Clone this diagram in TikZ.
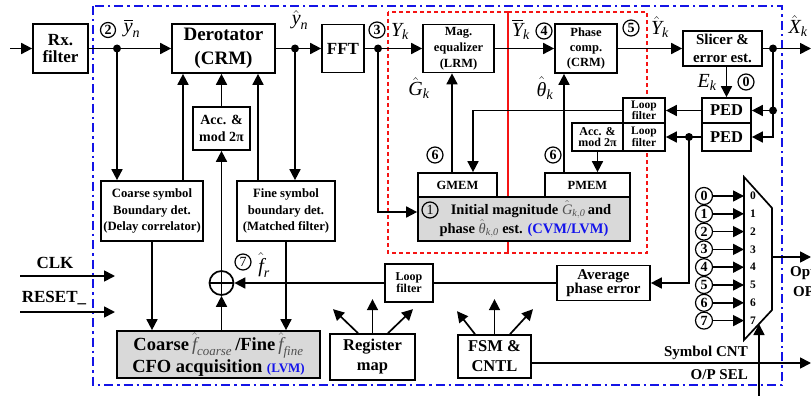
\documentclass[tikz,border=0pt]{standalone}
\usepackage{fix-cm}
\usepackage{amsmath}
\usepackage[no-math]{fontspec}
\setmainfont{Liberation Serif}
\usetikzlibrary{arrows.meta}
\definecolor{fillgray}{RGB}{217,217,217}
\definecolor{frameblue}{RGB}{20,20,230}
\definecolor{framered}{RGB}{245,20,20}
\definecolor{textblue}{RGB}{20,20,235}
\definecolor{symgray}{RGB}{80,80,80}
\newcommand\itx[1]{\text{\mdseries\itshape #1}}
\newcommand\fsz[2]{\fontsize{#1}{#2}\selectfont}

\begin{document}
\begin{tikzpicture}[x=1pt,y=-1pt,line width=1.7pt,
  arr/.style={-{Triangle[length=11pt,width=11pt]}},
  blk/.style={draw,rectangle,fill=white,inner sep=0pt,align=center},
  grayblk/.style={blk,fill=fillgray},
  jdot/.style={circle,fill,inner sep=0pt,minimum size=8pt},
  cnum/.style={circle,draw,line width=1.2pt,inner sep=0pt,minimum size=16pt,font=\fsz{14}{14}\bfseries},
  lab/.style={inner sep=0pt,font=\fsz{20}{20}},
]
\useasboundingbox (0,0) rectangle (811,396);

% chip boundary and the two equalizer regions
\draw[frameblue,line width=2pt,dash pattern=on 9pt off 4pt on 2.5pt off 4pt] (93,6) rectangle (782,385);
\draw[framered,line width=2pt,dash pattern=on 4pt off 3pt] (388,12) rectangle (508,253);
\draw[framered,line width=2pt,dash pattern=on 4pt off 3pt] (508,12) rectangle (647,253);

% main data path
\node[blk,minimum width=55,minimum height=49,font=\fsz{17}{17}\bfseries] (rx) at (60.5,48.5) {Rx.\\filter};
\node[blk,minimum width=103,minimum height=49,font=\fsz{19}{24}\bfseries] (derot) at (223.5,48.5) {Derotator\\(CRM)};
\node[blk,minimum width=42,minimum height=48,font=\fsz{17}{17}\bfseries] (fft) at (343,48.5) {FFT};
\node[blk,minimum width=71,minimum height=48,font=\fsz{12.5}{16}\bfseries] (mageq) at (458.5,48.5) {Mag.\\equalizer\\(LRM)};
\node[blk,minimum width=62,minimum height=49,font=\fsz{12.5}{15}\bfseries] (phcomp) at (586,48.5) {Phase\\comp.\\(CRM)};
\node[blk,minimum width=79,minimum height=35,font=\fsz{15}{18}\bfseries] (slicer) at (722.5,48.5) {Slicer \&\\error est.};

% phase tracking loops
\node[blk,minimum width=49,minimum height=25,font=\fsz{16.5}{16}\bfseries] (ped1) at (726.5,110.5) {PED};
\node[blk,minimum width=49,minimum height=28,font=\fsz{16.5}{16}\bfseries] (ped2) at (726.5,137) {PED};
\node[blk,minimum width=42,minimum height=25,font=\fsz{11.5}{11.5}\bfseries] (lf1) at (644,110.5) {Loop\\filter};
\node[blk,minimum width=42,minimum height=28,font=\fsz{11.5}{11.5}\bfseries] (lf2) at (644,137) {Loop\\filter};
\node[blk,minimum width=51,minimum height=28,font=\fsz{12}{11.5}\bfseries] (acc2) at (597.5,137) {Acc. \&\\mod 2π};
\node[blk,minimum width=57,minimum height=43,font=\fsz{14}{17}\bfseries] (acc1) at (221.5,128.5) {Acc. \&\\mod 2π};

% synchronisation blocks
\node[blk,minimum width=102,minimum height=60,font=\fsz{12.7}{16.5}\bfseries] (coarse) at (152,211) {Coarse symbol\\Boundary det.\\(Delay correlator)};
\node[blk,minimum width=98,minimum height=60,font=\fsz{12.7}{16.5}\bfseries] (fine) at (286,211) {Fine symbol\\boundary det.\\(Matched filter)};
\node[blk,minimum width=79,minimum height=24,font=\fsz{12.5}{12}\bfseries] (gmem) at (457.5,185) {GMEM};
\node[blk,minimum width=85,minimum height=24,font=\fsz{12.5}{12}\bfseries] (pmem) at (587.5,185) {PMEM};
\node[grayblk,minimum width=212,minimum height=44,font=\fsz{14.5}{18}\bfseries] (init) at (524,219)
  {\hspace*{14pt}Initial magnitude \textcolor{symgray}{$\hat{\itx{G}}_{\itx{k},\itx{0}}$}\,and\\phase \textcolor{symgray}{$\hat{\itx{θ}}_{\itx{k},\itx{0}}$} est. \textcolor{textblue}{(CVM/LVM)}};
\node[grayblk,minimum width=203,minimum height=47,font=\fsz{18.5}{22}\bfseries] (cfo) at (218.5,354.5)
  {Coarse\,\textcolor{symgray}{$\hat{\itx{f}}_{\itx{coarse}}$}\,/Fine\,\textcolor{symgray}{$\hat{\itx{f}}_{\itx{fine}}$}\\CFO acquisition {\fsz{13}{13}\textcolor{textblue}{(LVM)}}};
\node[blk,minimum width=93,minimum height=35,font=\fsz{15}{14}\bfseries] (avg) at (603.5,283) {Average\\phase error};
\node[blk,minimum width=48,minimum height=38,font=\fsz{12}{12}\bfseries] (lf3) at (409,283) {Loop\\filter};
\node[blk,minimum width=85,minimum height=46,font=\fsz{16.5}{20}\bfseries] (reg) at (372.5,357) {Register\\map};
\node[blk,minimum width=73,minimum height=43,font=\fsz{16.5}{20}\bfseries] (fsm) at (494.5,356.5) {FSM \&\\CNTL};
\node[circle,draw,minimum size=24pt,inner sep=0pt] (sum) at (221.5,283) {};
\draw (sum.north) -- (sum.south) (sum.west) -- (sum.east);

% output multiplexer
\draw[fill=white] (744,177) -- (772,208) -- (772,310) -- (744,340) -- cycle;
\coordinate (muxin) at (744,0);
\foreach \i in {0,...,7}{
  \node[font=\fsz{11.5}{11.5}\bfseries] (m\i) at (753,{196+17.8*\i}) {\i};
  \node[cnum,minimum size=17pt] (c\i) at (704,{196+17.8*\i}) {\i};
  \draw[arr] (c\i.east) -- (c\i.east -| muxin);
}
\coordinate (muxo) at (772,257);
\coordinate (opout) at (811,257);
\draw[arr] (muxo) -- (opout);
\coordinate (selin) at (759,396);
\coordinate (selpt) at (759,324);
\draw[arr] (selin) -- (selpt);

% forward connections
\coordinate (src) at (10,48.5);
\coordinate (xout) at (811,48.5);
\node[jdot] (j1) at (117,48.5) {};
\node[jdot] (j2) at (295,48.5) {};
\node[jdot] (j3) at (378,48.5) {};
\node[jdot] (j4) at (773,48.5) {};
\node[jdot] (j5) at (773,110.5) {};
\node[jdot] (j6) at (689,137) {};
\draw[arr] (src) -- (rx.west);
\draw[arr] (rx.east) -- (derot.west);
\draw[arr] (derot.east) -- (fft.west);
\draw[arr] (fft.east) -- (mageq.west);
\draw[arr] (mageq.east) -- (phcomp.west);
\draw[arr] (phcomp.east) -- (slicer.west);
\draw[arr] (slicer.east) -- (xout);

% tracking loops
\draw[arr] (j4.center) |- (ped2.east);
\draw[arr] (j5.center) -- (ped1.east);
\draw[arr] (ped1.north |- slicer.south) -- (ped1.north);
\draw[arr] (ped1.west) -- (lf1.east);
\draw[arr] (ped2.west) -- (lf2.east);
\draw[arr] (j6.center) |- (avg.east);
\draw[arr] (lf1.west) -| ([xshift=15.5pt]gmem.north);
\draw[arr] ([xshift=-5.5pt]gmem.north) -- ([xshift=-5.5pt]gmem.north |- mageq.south);
\draw[arr] ([xshift=-23.5pt]pmem.north) -- ([xshift=-23.5pt]pmem.north |- phcomp.south);
\draw[arr] (acc2.south) -- (acc2.south |- pmem.north);
\draw[arr] (j3.center) |- ([yshift=7pt]init.west);

% synchronisation
\draw[arr] (j1.center) -- (j1.center |- coarse.north);
\draw[arr] (j2.center) -- (j2.center |- fine.north);
\draw[arr] ([xshift=31pt]coarse.north) -- ([xshift=31pt]coarse.north |- derot.south);
\draw[arr] ([xshift=-28pt]fine.north) -- ([xshift=-28pt]fine.north |- derot.south);
\draw[arr] (acc1.north) -- (acc1.north |- derot.south);
\draw[arr] (sum.north) -- (acc1.south);
\draw[arr] (sum.south |- cfo.north) -- (sum.south);
\draw[arr] (coarse.south) -- (coarse.south |- cfo.north);
\draw[arr] (fine.south) -- (fine.south |- cfo.north);
\draw (avg.west) -- (lf3.east);
\draw[arr] (lf3.west) -- (sum.east);

% control
\draw[arr] ([xshift=-14.5pt]reg.north) -- ++(-25,-24);
\draw[arr] (reg.north) -- ++(0,-34);
\draw[arr] ([xshift=15.5pt]reg.north) -- ++(25,-24);
\draw[arr] ([xshift=-19.5pt]fsm.north) -- ++(-18,-23);
\draw[arr] (fsm.north) -- ++(0,-35);
\draw[arr] ([xshift=15.5pt]fsm.north) -- ++(23,-25);
\coordinate (cntout) at (811,363);
\draw[arr] ([yshift=-6.5pt]fsm.east) -- (cntout);
\node[font=\fsz{15}{15}\bfseries,anchor=east] (scnt) at (752,353) {Symbol CNT};
\node[font=\fsz{15}{15}\bfseries,anchor=east] (opsel) at (752,375) {O/P SEL};
\node[font=\fsz{15}{15}\bfseries,anchor=west] (opt) at (786,273) {Opt};
\node[font=\fsz{15}{15}\bfseries,anchor=west] (op) at (789,292) {OP};

\node[font=\fsz{17}{17}\bfseries] (clk) at (55,263) {CLK};
\node[font=\fsz{17}{17}\bfseries] (rst) at (54,298) {RESET\_};
\coordinate (clk0) at (20,276);
\coordinate (clk1) at (115,276);
\coordinate (rst0) at (20,312);
\coordinate (rst1) at (115,312);
\draw[arr] (clk0) -- (clk1);
\draw[arr] (rst0) -- (rst1);

% signal labels
\node[cnum,minimum size=15pt] (n2) at (108,30) {2};
\node[lab] (ybar) at (132,28) {$\overline{\itx{y}}_{\itx{n}}$};
\node[lab] (yhat) at (300,20) {$\hat{\itx{y}}_{\itx{n}}$};
\node[cnum] (n3) at (377,30) {3};
\node[lab] (Yk) at (400,31) {$\itx{Y}_{\itx{k}}$};
\node[lab] (Gk) at (419,88) {$\hat{\itx{G}}_{\itx{k}}$};
\node[lab] (Ybk) at (521,29) {$\overline{\itx{Y}}_{\itx{k}}$};
\node[cnum] (n4) at (544,31) {4};
\node[lab] (thk) at (545,88) {$\hat{\itx{θ}}_{\itx{k}}$};
\node[cnum] (n5) at (631,28) {5};
\node[lab] (Yhk) at (660,27) {$\hat{\itx{Y}}_{\itx{k}}$};
\node[lab] (Xhk) at (798,26) {$\hat{\itx{X}}_{\itx{k}}$};
\node[lab] (Ek) at (707,82) {$\itx{E}_{\itx{k}}$};
\node[cnum] (n0) at (746,82) {0};
\node[cnum] (n6a) at (435,155) {6};
\node[cnum] (n6b) at (553,155) {6};
\node[cnum,font=\fsz{14}{14}] (n7) at (243,262) {7};
\node[lab] (fr) at (264,265) {$\hat{\itx{f}}_{\itx{r}}$};
\node[cnum,font=\fsz{14}{14}] (n1) at (430,210) {1};
\end{tikzpicture}
\end{document}
